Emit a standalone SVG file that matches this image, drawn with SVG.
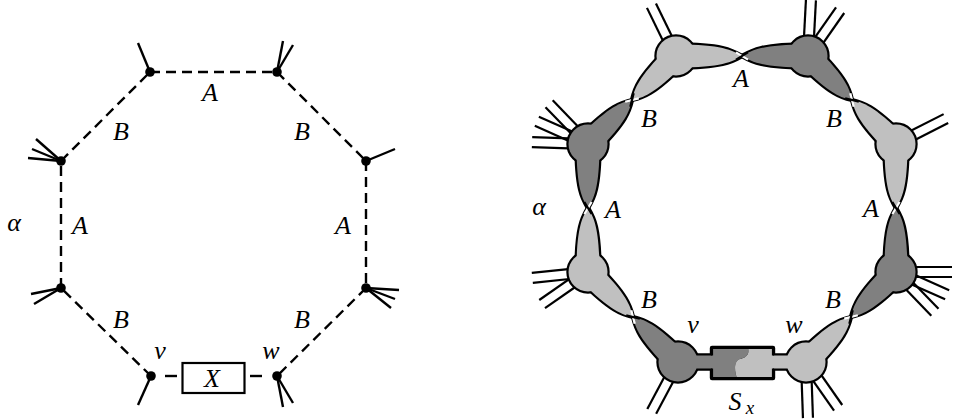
<svg xmlns="http://www.w3.org/2000/svg" xmlns:xlink="http://www.w3.org/1999/xlink" width="961" height="419" viewBox="0 0 961 419">
<style>
.dash{stroke:#000;stroke-width:2.4;stroke-dasharray:10 6;fill:none}
.stub{stroke:#000;stroke-width:2.4;fill:none}
.pair{stroke:#000;stroke-width:2.2;fill:none}
.ul{stroke:#000;stroke-width:4.4;stroke-linejoin:round;fill:#000}
.lt{fill:#c0c0c0;stroke:none}
.dk{fill:#808080;stroke:none}
.gap{stroke:#fff;stroke-width:2.2}
.front{stroke:#000;stroke-width:2.2}
</style>
<defs>
<path id="l132" d="M0,11.5 C46.2,11.5 56.1,5.75 66,0 C56.1,-5.75 46.2,-11.5 0,-11.5Z"/>
<path id="l128" d="M0,11.5 C44.8,11.5 54.4,5.75 64,0 C54.4,-5.75 44.8,-11.5 0,-11.5Z"/>
<path id="l124" d="M0,11.5 C43.6,11.5 52.9,5.75 62.2,0 C52.9,-5.75 43.6,-11.5 0,-11.5Z"/>
<path id="l127" d="M0,11.5 C44.6,11.5 54.1,5.75 63.6,0 C54.1,-5.75 44.6,-11.5 0,-11.5Z"/>
<g id="pr"><line x1="12" y1="-5" x2="56" y2="-5"/><line x1="12" y1="5" x2="56" y2="5"/></g>
</defs>

<!-- LEFT FIGURE -->
<g id="left-connectors">
<line class="dash" x1="150" y1="72" x2="277" y2="72"/>
<line class="dash" x1="277" y1="72" x2="366" y2="161"/>
<line class="dash" x1="366" y1="161" x2="366" y2="288"/>
<line class="dash" x1="366" y1="288" x2="277" y2="376"/>
<line class="dash" x1="151" y1="376" x2="61" y2="288"/>
<line class="dash" x1="61" y1="288" x2="61" y2="161"/>
<line class="dash" x1="61" y1="161" x2="150" y2="72"/>
<line class="stub" x1="165" y1="376" x2="177" y2="376"/>
<line class="stub" x1="250" y1="376" x2="262" y2="376"/>
</g>
<g id="Lv1"><line class="stub" x1="150" y1="72" x2="138" y2="43"/><circle cx="150" cy="72" r="4.8"/></g>
<g id="Lv2"><line class="stub" x1="277" y1="72" x2="283" y2="41"/><line class="stub" x1="277" y1="72" x2="293" y2="45"/><circle cx="277" cy="72" r="4.8"/></g>
<g id="Lv3"><line class="stub" x1="366" y1="161" x2="395" y2="149"/><circle cx="366" cy="161" r="4.8"/></g>
<g id="Lv4"><line class="stub" x1="366" y1="288" x2="399" y2="290"/><line class="stub" x1="366" y1="288" x2="395" y2="299"/><line class="stub" x1="366" y1="288" x2="391" y2="308"/><circle cx="366" cy="288" r="4.8"/></g>
<g id="Lw"><line class="stub" x1="277" y1="376" x2="283" y2="407"/><line class="stub" x1="277" y1="376" x2="293" y2="403"/><circle cx="277" cy="376" r="4.8"/></g>
<g id="Lv"><line class="stub" x1="151" y1="376" x2="138" y2="405"/><circle cx="151" cy="376" r="4.8"/></g>
<g id="Lv7"><line class="stub" x1="61" y1="288" x2="31" y2="294"/><line class="stub" x1="61" y1="288" x2="34" y2="304"/><circle cx="61" cy="288" r="4.8"/></g>
<g id="Lv8"><line class="stub" x1="61" y1="161" x2="36" y2="139"/><line class="stub" x1="61" y1="161" x2="32" y2="149"/><line class="stub" x1="61" y1="161" x2="28" y2="158"/><circle cx="61" cy="161" r="4.8"/></g>
<g id="LX"><rect x="182.5" y="363" width="62" height="30" fill="#fff" stroke="#000" stroke-width="2.2"/><text x="212" y="387" text-anchor="middle" font-family="Liberation Serif, Times New Roman, serif" font-style="italic" font-size="26">X</text></g>

<g id="left-labels" font-family="Liberation Serif, Times New Roman, serif" font-style="italic" font-size="26" text-anchor="middle">
<text x="210" y="101">A</text>
<text x="121" y="140">B</text>
<text x="302" y="140">B</text>
<text x="80" y="234">A</text>
<text x="14" y="231">α</text>
<text x="343" y="234">A</text>
<text x="121" y="328">B</text>
<text x="302" y="328">B</text>
<text x="160" y="359">v</text>
<text x="271" y="359">w</text>
</g>

<!-- RIGHT FIGURE -->
<g id="Sx-under"><rect x="712" y="348" width="61" height="30" class="ul"/></g>

<g id="R1" transform="translate(676,56)">
<g class="pair"><use xlink:href="#pr" transform="rotate(-116)"/></g>
<g class="ul"><circle r="19.5"/><use xlink:href="#l132"/><use xlink:href="#l124" transform="rotate(135)"/></g>
<g class="lt"><circle r="19.5"/><use xlink:href="#l132"/><use xlink:href="#l124" transform="rotate(135)"/></g>
</g>
<g id="R2" transform="translate(808,56)">
<g class="pair"><use xlink:href="#pr" transform="rotate(-87)"/><use xlink:href="#pr" transform="rotate(-55)"/></g>
<g class="ul"><circle r="19.5"/><use xlink:href="#l132" transform="rotate(180)"/><use xlink:href="#l124" transform="rotate(45)"/></g>
<g class="dk"><circle r="19.5"/><use xlink:href="#l132" transform="rotate(180)"/><use xlink:href="#l124" transform="rotate(45)"/></g>
</g>
<g id="R3" transform="translate(896,144)">
<g class="pair"><use xlink:href="#pr" transform="rotate(-27)"/></g>
<g class="ul"><circle r="19.5"/><use xlink:href="#l124" transform="rotate(225)"/><use xlink:href="#l128" transform="rotate(90)"/></g>
<g class="lt"><circle r="19.5"/><use xlink:href="#l124" transform="rotate(225)"/><use xlink:href="#l128" transform="rotate(90)"/></g>
</g>
<g id="R4" transform="translate(896,272)">
<g class="pair"><use xlink:href="#pr" transform="rotate(0)"/><use xlink:href="#pr" transform="rotate(24)"/><use xlink:href="#pr" transform="rotate(46)"/></g>
<g class="ul"><circle r="19.5"/><use xlink:href="#l128" transform="rotate(270)"/><use xlink:href="#l127" transform="rotate(135)"/></g>
<g class="dk"><circle r="19.5"/><use xlink:href="#l128" transform="rotate(270)"/><use xlink:href="#l127" transform="rotate(135)"/></g>
</g>
<g id="Rw" transform="translate(806,362)">
<g class="pair"><use xlink:href="#pr" transform="rotate(88)"/><use xlink:href="#pr" transform="rotate(55)"/></g>
<g class="ul"><circle r="19.5"/><use xlink:href="#l127" transform="rotate(-45)"/><rect x="-34" y="-6.5" width="24" height="13"/></g>
<g class="lt"><circle r="19.5"/><use xlink:href="#l127" transform="rotate(-45)"/><rect x="-34" y="-6.5" width="24" height="13"/></g>
</g>
<g id="Rv" transform="translate(678,362)">
<g class="pair"><use xlink:href="#pr" transform="rotate(118)"/></g>
<g class="ul"><circle r="19.5"/><use xlink:href="#l127" transform="rotate(225)"/><rect x="10" y="-6.5" width="26" height="13"/></g>
<g class="dk"><circle r="19.5"/><use xlink:href="#l127" transform="rotate(225)"/><rect x="10" y="-6.5" width="26" height="13"/></g>
</g>
<g id="R7" transform="translate(588,272)">
<g class="pair"><use xlink:href="#pr" transform="rotate(174)"/><use xlink:href="#pr" transform="rotate(145)"/></g>
<g class="ul"><circle r="19.5"/><use xlink:href="#l127" transform="rotate(45)"/><use xlink:href="#l128" transform="rotate(270)"/></g>
<g class="lt"><circle r="19.5"/><use xlink:href="#l127" transform="rotate(45)"/><use xlink:href="#l128" transform="rotate(270)"/></g>
</g>
<g id="R8" transform="translate(588,144)">
<g class="pair"><use xlink:href="#pr" transform="rotate(182)"/><use xlink:href="#pr" transform="rotate(204)"/><use xlink:href="#pr" transform="rotate(226)"/></g>
<g class="ul"><circle r="19.5"/><use xlink:href="#l128" transform="rotate(90)"/><use xlink:href="#l124" transform="rotate(-45)"/></g>
<g class="dk"><circle r="19.5"/><use xlink:href="#l128" transform="rotate(90)"/><use xlink:href="#l124" transform="rotate(-45)"/></g>
</g>

<g id="Sx">
<path class="dk" d="M712,348 H748 C750,355 745,358 740,359 C734,361 734,370 737,378 H712Z"/>
<path class="lt" d="M748,348 H773 V378 H737 C734,370 734,361 740,359 C745,358 750,355 748,348Z"/>
<path d="M712,355.5 V348 H773 V355.5 M773,368.5 V378 H712 V368.5" fill="none" stroke="#000" stroke-width="2.2"/>
<text x="735" y="410" text-anchor="middle" font-family="Liberation Serif, Times New Roman, serif" font-style="italic" font-size="26">S</text><text x="750" y="414" text-anchor="middle" font-family="Liberation Serif, Times New Roman, serif" font-style="italic" font-size="19">x</text>
</g>

<g id="right-connectors">
<g transform="translate(676,56)"><line class="gap" x1="60" y1="-3.6" x2="72" y2="3.6"/><line class="front" x1="60" y1="3.6" x2="72" y2="-3.6"/></g>
<g transform="translate(808,56) rotate(45)"><line class="gap" x1="56.2" y1="-3.6" x2="68.2" y2="3.6"/><line class="front" x1="56.2" y1="3.6" x2="68.2" y2="-3.6"/></g>
<g transform="translate(896,144) rotate(90)"><line class="gap" x1="58" y1="-3.6" x2="70" y2="3.6"/><line class="front" x1="58" y1="3.6" x2="70" y2="-3.6"/></g>
<g transform="translate(896,272) rotate(135)"><line class="gap" x1="57.6" y1="-3.6" x2="69.6" y2="3.6"/><line class="front" x1="57.6" y1="3.6" x2="69.6" y2="-3.6"/></g>
<g transform="translate(678,362) rotate(225)"><line class="gap" x1="57.6" y1="-3.6" x2="69.6" y2="3.6"/><line class="front" x1="57.6" y1="3.6" x2="69.6" y2="-3.6"/></g>
<g transform="translate(588,272) rotate(270)"><line class="gap" x1="58" y1="-3.6" x2="70" y2="3.6"/><line class="front" x1="58" y1="3.6" x2="70" y2="-3.6"/></g>
<g transform="translate(588,144) rotate(-45)"><line class="gap" x1="56.2" y1="-3.6" x2="68.2" y2="3.6"/><line class="front" x1="56.2" y1="3.6" x2="68.2" y2="-3.6"/></g>
</g>

<g id="right-labels" font-family="Liberation Serif, Times New Roman, serif" font-style="italic" font-size="26" text-anchor="middle">
<text x="741" y="87">A</text>
<text x="649" y="127">B</text>
<text x="834" y="127">B</text>
<text x="539" y="215">α</text>
<text x="613" y="218">A</text>
<text x="871" y="217">A</text>
<text x="649" y="308">B</text>
<text x="833" y="308">B</text>
<text x="693" y="333">v</text>
<text x="794" y="333">w</text>
</g>
</svg>
